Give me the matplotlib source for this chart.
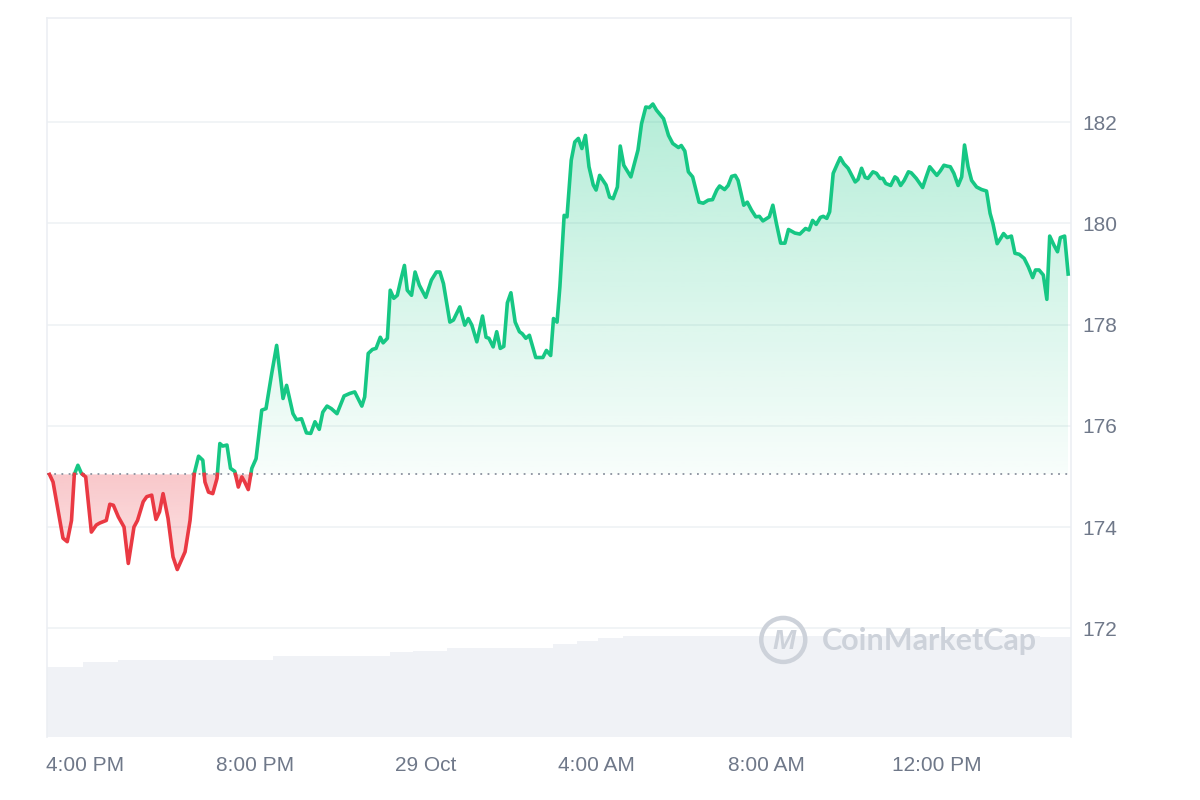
import numpy as np
import matplotlib.pyplot as plt
from matplotlib.path import Path
from matplotlib.patches import PathPatch, Ellipse
from matplotlib.colors import to_rgb

# time axis: minutes after 28 Oct 15:00
minutes = [10, 15, 29, 35, 41, 45, 50, 55, 61, 69, 76, 81, 90, 95, 100, 107, 115, 121, 129, 134,
           142, 147, 154, 160, 165, 170, 177, 184, 190, 201, 208, 214, 220, 226, 229, 234, 240, 246, 250, 254,
           260, 265, 271, 276, 281, 285, 290, 295, 301, 309, 315, 323, 330, 339, 344, 353, 358, 365, 372, 378,
           384, 390, 395, 401, 407, 415, 425, 433, 440, 450, 454, 459, 465, 470, 476, 480, 486, 490, 495, 500,
           505, 510, 514, 520, 525, 531, 540, 548, 555, 560, 565, 574, 579, 588, 595, 600, 605, 612, 620, 625,
           629, 635, 640, 645, 650, 655, 660, 666, 672, 676, 681, 686, 695, 705, 710, 716, 720, 725, 729, 735,
           739, 745, 750, 755, 760, 765, 770, 776, 780, 785, 794, 799, 804, 810, 814, 819, 829, 839, 844, 850,
           855, 860, 865, 875, 882, 888, 896, 900, 905, 910, 916, 925, 931, 938, 944, 950, 954, 961, 966, 971,
           976, 980, 988, 993, 999, 1005, 1010, 1015, 1024, 1029, 1034, 1040, 1046, 1051, 1060, 1067,
           1075, 1080, 1085, 1090, 1096, 1100, 1105, 1109, 1114, 1120, 1124, 1129, 1135, 1145, 1149, 1154,
           1159, 1163, 1170, 1175, 1180, 1184, 1188, 1195, 1201, 1204, 1209, 1214, 1220, 1224, 1231, 1240,
           1245, 1250, 1256, 1260, 1265, 1270, 1275, 1279, 1284, 1290, 1295, 1299, 1304, 1309, 1316, 1323,
           1330, 1335, 1339, 1345, 1351, 1354, 1359, 1365, 1370, 1376, 1383, 1389, 1395, 1399, 1404, 1410,
           1415, 1419, 1425, 1430, 1434, 1440, 1445]

prices = [175.04, 174.89, 173.78, 173.71, 174.13, 175.04, 175.22, 175.06, 174.99, 173.90,
          174.04, 174.08, 174.13, 174.45, 174.43, 174.20, 174.00, 173.28, 174.00, 174.13,
          174.50, 174.60, 174.63, 174.15, 174.30, 174.66, 174.17, 173.41, 173.16, 173.51,
          174.13, 175.06, 175.40, 175.32, 174.89, 174.69, 174.66, 174.96, 175.65, 175.60,
          175.62, 175.16, 175.10, 174.79, 174.99, 174.89, 174.74, 175.16, 175.35, 176.31,
          176.34, 177.03, 177.59, 176.54, 176.80, 176.24, 176.12, 176.14, 175.86, 175.85,
          176.08, 175.93, 176.27, 176.39, 176.34, 176.24, 176.59, 176.64, 176.67, 176.39,
          176.57, 177.43, 177.51, 177.53, 177.75, 177.64, 177.73, 178.68, 178.52, 178.58,
          178.89, 179.17, 178.68, 178.58, 179.04, 178.78, 178.54, 178.88, 179.04, 179.04,
          178.81, 178.05, 178.09, 178.35, 177.99, 178.12, 177.99, 177.66, 178.17, 177.75,
          177.73, 177.56, 177.86, 177.53, 177.57, 178.43, 178.63, 178.05, 177.86, 177.82,
          177.73, 177.79, 177.35, 177.35, 177.49, 177.39, 178.12, 178.05, 178.75, 180.16,
          180.13, 181.25, 181.61, 181.68, 181.48, 181.74, 181.12, 180.76, 180.66, 180.95,
          180.76, 180.52, 180.49, 180.72, 181.53, 181.15, 180.92, 181.45, 181.97, 182.30,
          182.29, 182.36, 182.24, 182.07, 181.74, 181.58, 181.50, 181.54, 181.43, 181.02,
          180.92, 180.42, 180.40, 180.46, 180.47, 180.66, 180.74, 180.67, 180.75, 180.93,
          180.95, 180.85, 180.36, 180.42, 180.26, 180.13, 180.14, 180.05, 180.13, 180.36,
          180.00, 179.61, 179.61, 179.88, 179.81, 179.79,
          179.90, 179.87, 180.06, 179.98, 180.12, 180.14, 180.10, 180.23, 180.99, 181.18,
          181.30, 181.18, 181.09, 180.82, 180.87, 181.09, 180.91, 180.89, 181.02, 180.99,
          180.89, 180.89, 180.79, 180.75, 180.92, 180.89, 180.75, 180.85, 181.02, 181.00,
          180.89, 180.71, 180.92, 181.12, 181.02, 180.95, 181.04, 181.15, 181.13, 181.12,
          180.99, 180.75, 180.92, 181.55, 181.12, 180.85, 180.72, 180.67, 180.64, 180.20,
          180.00, 179.60, 179.73, 179.80, 179.72, 179.75, 179.41, 179.39, 179.31, 179.14,
          178.93, 179.08, 179.08, 178.98, 178.50, 179.75, 179.57, 179.44, 179.72, 179.75,
          179.00]

open_price = 175.04

# volume steps (start minute, end minute, level in $B)
vol_start = [6.5, 57, 107, 325, 490, 522, 570, 719, 753, 783, 818, 1405]
vol_end = [57, 107, 325, 490, 522, 570, 719, 753, 783, 818, 1405, 1449]
vol_level = [2.81, 2.99, 3.08, 3.24, 3.40, 3.44, 3.56, 3.72, 3.85, 3.95, 4.05, 4.00]

tick_minutes = [60, 300, 540, 780, 1020, 1260]
tick_labels = ['4:00 PM', '8:00 PM', '29 Oct', '4:00 AM', '8:00 AM', '12:00 PM']
price_ticks = [172, 174, 176, 178, 180, 182]

GREEN = '#16c784'
RED = '#ea3943'
GRID = '#eff2f5'
TEXT = '#6f7889'
MARK = '#cdd2da'

plt.rcParams['font.family'] = ['Liberation Sans', 'DejaVu Sans']

fig = plt.figure(figsize=(12, 8), dpi=100)
ax = fig.add_axes([0.03917, 0.07875, 0.85333, 0.89875])
ax2 = ax.twinx()
ax.set_zorder(ax2.get_zorder() + 1)
ax.patch.set_visible(False)

# volume in the background
ax2.bar(vol_start, vol_level, width=np.subtract(vol_end, vol_start), align='edge',
        color='#f0f2f6', linewidth=0)
ax2.set_ylim(0, max(vol_level) * 7.1)
ax2.set_yticks([])
for s in ax2.spines.values():
    s.set_visible(False)

# add crossing points so the line splits cleanly at the open price
t = np.array(minutes, dtype=float)
p = np.array(prices)
tt, pp = [t[0]], [p[0]]
for i in range(1, len(t)):
    a, b = p[i - 1] - open_price, p[i] - open_price
    if a * b < 0:
        f = a / (a - b)
        tt.append(t[i - 1] + f * (t[i] - t[i - 1]))
        pp.append(open_price)
    tt.append(t[i])
    pp.append(p[i])
tt = np.array(tt)
pp = np.array(pp)


def gradient_fill(coll, color, a_top, a_bot, y_bot, y_top):
    path = Path.make_compound_path(*coll.get_paths())
    clip = PathPatch(path, transform=ax.transData, facecolor='none', edgecolor='none')
    ax.add_patch(clip)
    rgba = np.zeros((256, 1, 4))
    rgba[..., :3] = to_rgb(color)
    rgba[:, 0, 3] = np.linspace(a_top, a_bot, 256)
    im = ax.imshow(rgba, aspect='auto', origin='upper', zorder=1,
                   extent=[tt[0], tt[-1], y_bot, y_top])
    im.set_clip_path(clip)
    coll.remove()


up = ax.fill_between(tt, pp, open_price, where=pp >= open_price, linewidth=0)
gradient_fill(up, GREEN, 0.32, 0.03, open_price, pp.max())
down = ax.fill_between(tt, pp, open_price, where=pp <= open_price, linewidth=0)
gradient_fill(down, RED, 0.28, 0.14, pp.min(), open_price)

ax.plot(tt, np.ma.masked_where(pp < open_price, pp), color=GREEN, lw=2.6,
        solid_joinstyle='round', zorder=4)
ax.plot(tt, np.ma.masked_where(pp > open_price, pp), color=RED, lw=2.6,
        solid_joinstyle='round', zorder=4)

ax.axhline(open_price, color='#8a919e', lw=1.3, linestyle=(0, (1, 3)), zorder=3)

# watermark (circle sized in pixels of the 1024x719 plot box)
ax.add_patch(Ellipse((0.719, 0.135), 2 * 22 / 1024, 2 * 22 / 719, transform=ax.transAxes,
                     fill=False, edgecolor=MARK, lw=3.2, zorder=2))
ax.text(0.7195, 0.132, 'M', transform=ax.transAxes, ha='center', va='center',
        fontsize=20, fontweight='bold', style='italic', color=MARK, zorder=2)
ax.text(0.757, 0.134, 'CoinMarketCap', transform=ax.transAxes, ha='left', va='center',
        fontsize=22, fontweight='bold', color=MARK, family='Lato', zorder=2)

ax.set_xlim(6.5, 1449)
ax.set_ylim(169.85, 184.06)
ax.set_xticks(tick_minutes)
ax.set_xticklabels(tick_labels)
ax.set_yticks(price_ticks)
ax.yaxis.tick_right()
ax.tick_params(axis='both', length=0, labelsize=15, colors=TEXT)
ax.tick_params(axis='x', pad=14)
ax.tick_params(axis='y', pad=8)
ax.grid(axis='y', color=GRID, lw=1.2)
ax.set_axisbelow(True)

for side in ['left', 'right', 'top']:
    ax.spines[side].set_color('#eceff3')
    ax.spines[side].set_linewidth(1.2)
ax.spines['bottom'].set_visible(False)

fig.savefig('out.png', dpi=100)
